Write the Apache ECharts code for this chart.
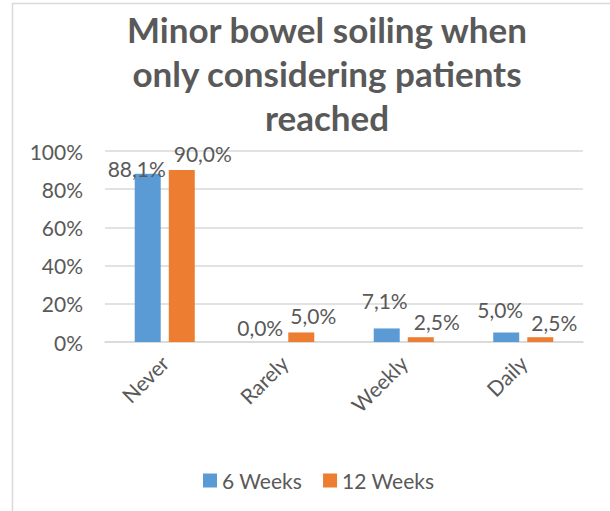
<!DOCTYPE html>
<html>
<head>
<meta charset="utf-8">
<script src="https://cdn.jsdelivr.net/npm/echarts@6/dist/echarts.min.js"></script>
<style>
  html, body { margin: 0; padding: 0; background: #fff; }
  #main { width: 610px; height: 511px; }
</style>
</head>
<body>
<div id="main"></div>
<script>
var categories = ['Never', 'Rarely', 'Weekly', 'Daily'];
var sixWeeks = [88.1, 0.0, 7.1, 5.0];
var twelveWeeks = [90.0, 5.0, 2.5, 2.5];
var yTicks = [0, 20, 40, 60, 80, 100];

// label nudges, copying how the original spreads overlapping labels
var sixOffsets = [[-11, 5], [-7, -4], [-2, -17], [-6, -12]];
var twelveOffsets = [[21, -6], [12, -6], [16, -5], [14, -4]];

var myChart = echarts.init(document.getElementById('main'), null, {renderer: 'svg'});
var textColor = '#595959';
var fontFam = 'Lato';

// labels use a decimal comma, like the original
function pct(p) {
    return p.value.toFixed(1).replace('.', ',') + '%';
}

function withOffsets(values, offsets) {
    return values.map(function (v, i) {
        return { value: v, label: { offset: offsets[i] } };
    });
}

var barLabel = { show: true, position: 'top', distance: 0, color: textColor, fontSize: 21, fontFamily: fontFam, formatter: pct };

var option = {
    backgroundColor: '#fff',
    textStyle: { fontFamily: fontFam },
    title: {
        text: 'Minor bowel soiling when\nonly considering patients\nreached',
        left: 322,
        textAlign: 'center',
        top: 2,
        textStyle: {
            color: textColor,
            fontFamily: fontFam,
            fontWeight: 'bold',
            fontSize: 35,
            lineHeight: 44
        }
    },
    graphic: [
        { type: 'line', shape: {x1: 12, y1: 3.5, x2: 610, y2: 3.5}, style: {stroke: '#d9d9d9', lineWidth: 1.5} },
        { type: 'line', shape: {x1: 12.5, y1: 3, x2: 12.5, y2: 511}, style: {stroke: '#d9d9d9', lineWidth: 1.5} }
    ],
    legend: {
        data: ['6 Weeks', '12 Weeks'],
        left: 198,
        top: 465,
        icon: 'rect',
        itemWidth: 14,
        itemHeight: 14,
        itemGap: 21,
        textStyle: { color: textColor, fontSize: 21, fontFamily: fontFam }
    },
    grid: { left: 105, right: 27, top: 151, bottom: 169 },
    xAxis: {
        type: 'category',
        data: categories,
        axisTick: { show: false },
        axisLine: { lineStyle: { color: '#d9d9d9', width: 1.5 } },
        axisLabel: { rotate: 45, margin: 17, color: textColor, fontSize: 21, fontFamily: fontFam }
    },
    yAxis: {
        type: 'value',
        min: yTicks[0],
        max: yTicks[yTicks.length - 1],
        interval: 20,
        axisLine: { show: false },
        axisTick: { show: false },
        splitLine: { lineStyle: { color: '#d9d9d9', width: 1.5 } },
        axisLabel: { margin: 22, color: textColor, fontSize: 21, fontFamily: fontFam, formatter: '{value}%' }
    },
    series: [
        {
            name: '6 Weeks',
            type: 'bar',
            data: withOffsets(sixWeeks, sixOffsets),
            barWidth: 26,
            barGap: '31%',
            itemStyle: { color: '#5b9bd5' },
            label: barLabel
        },
        {
            name: '12 Weeks',
            type: 'bar',
            data: withOffsets(twelveWeeks, twelveOffsets),
            barWidth: 26,
            barGap: '31%',
            itemStyle: { color: '#ed7d31' },
            label: barLabel
        }
    ]
};

myChart.setOption(option);
</script>
</body>
</html>
